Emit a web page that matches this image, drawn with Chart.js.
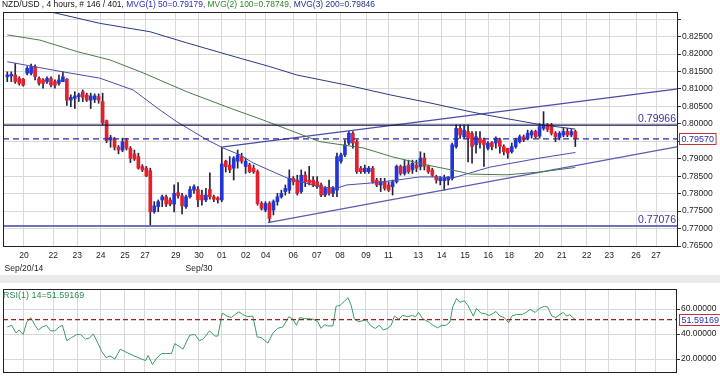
<!DOCTYPE html>
<html><head><meta charset="utf-8">
<script src="https://cdn.jsdelivr.net/npm/chart.js@4.4.1/dist/chart.umd.min.js"></script>
<style>
html,body{margin:0;padding:0;background:#fff;width:720px;height:378px;overflow:hidden;}
#main{position:absolute;left:0;top:0;}
#band{position:absolute;left:0;top:275px;width:720px;height:8px;background:#ebebeb;}
#rsi{position:absolute;left:0;top:283px;}
</style></head><body>
<canvas id="main" width="720" height="280"></canvas>
<div id="band"></div>
<canvas id="rsi" width="720" height="95"></canvas>
<script>
// ---------------- DATA ----------------
const opens  = [.8135,.8137,.8140,.8130,.8128,.8145,.8145,.8164,.8130,.8126,.8121,.8130,.8121,.8116,.8121,.8128,.8068,.8073,.8078,.8092,.8083,.8068,.8070,.8078,.8064,.8009,.7954,.7956,.7933,.7925,.7952,.7930,.7914,.7906,.7878,.7873,.7866,.7748,.7763,.7782,.7791,.7782,.7770,.7803,.7794,.7763,.7791,.7810,.7812,.7796,.7782,.7812,.7791,.7788,.7782,.7893,.7882,.7873,.7893,.7906,.7878,.7882,.7873,.7863,.7772,.7753,.7772,.7753,.7777,.7791,.7806,.7810,.7844,.7839,.7806,.7853,.7839,.7839,.7834,.7825,.7796,.7815,.7801,.7810,.7893,.7911,.7945,.7973,.7949,.7873,.7863,.7863,.7873,.7839,.7825,.7834,.7825,.7820,.7834,.7878,.7858,.7882,.7868,.7882,.7878,.7902,.7878,.7868,.7849,.7837,.7837,.7839,.7844,.7935,.7987,.7963,.7978,.7973,.7940,.7959,.7954,.7930,.7946,.7945,.7954,.7935,.7930,.7920,.7935,.7949,.7963,.7959,.7968,.7978,.7965,.7987,.7997,.7997,.7973,.7961,.7968,.7978,.7968,.7978];
const highs  = [.8149,.8149,.8173,.8135,.8130,.8164,.8171,.8169,.8135,.8130,.8135,.8135,.8126,.8140,.8149,.8130,.8083,.8092,.8088,.8097,.8088,.8088,.8086,.8086,.8088,.8011,.7967,.7961,.7938,.7959,.7959,.7935,.7925,.7916,.7883,.7878,.7873,.7777,.7782,.7796,.7796,.7788,.7825,.7832,.7801,.7796,.7820,.7825,.7820,.7810,.7815,.7860,.7796,.7791,.7934,.7896,.7906,.7906,.7925,.7916,.7902,.7887,.7882,.7868,.7777,.7777,.7777,.7782,.7801,.7810,.7825,.7868,.7849,.7853,.7868,.7863,.7878,.7849,.7849,.7830,.7820,.7839,.7820,.7916,.7916,.7954,.7978,.7978,.7954,.7878,.7882,.7878,.7878,.7844,.7844,.7844,.7834,.7839,.7882,.7882,.7896,.7896,.7896,.7896,.7920,.7916,.7882,.7873,.7853,.7849,.7853,.7849,.7945,.7997,.7997,.7997,.7997,.7978,.7978,.7978,.7959,.7949,.7949,.7963,.7959,.7940,.7930,.7945,.7959,.7968,.7968,.7982,.7982,.7982,.8001,.8035,.8001,.8001,.7978,.7978,.7987,.7987,.7984,.7982];
const lows   = [.8121,.8121,.8116,.8111,.8108,.8140,.8140,.8126,.8111,.8102,.8116,.8106,.8102,.8111,.8121,.8053,.8049,.8044,.8064,.8064,.8064,.8044,.8061,.8059,.7997,.7946,.7933,.7925,.7914,.7920,.7925,.7889,.7895,.7870,.7863,.7849,.7708,.7744,.7748,.7763,.7763,.7765,.7748,.7787,.7742,.7758,.7787,.7801,.7763,.7767,.7777,.7784,.7777,.7773,.7777,.7862,.7860,.7839,.7873,.7887,.7858,.7860,.7858,.7767,.7753,.7748,.7717,.7739,.7767,.7787,.7796,.7801,.7825,.7796,.7801,.7820,.7825,.7820,.7815,.7791,.7791,.7796,.7791,.7791,.7887,.7906,.7940,.7930,.7858,.7858,.7858,.7858,.7830,.7820,.7806,.7810,.7806,.7796,.7830,.7853,.7853,.7858,.7858,.7863,.7868,.7868,.7858,.7849,.7830,.7825,.7810,.7825,.7839,.7930,.7958,.7958,.7891,.7887,.7916,.7930,.7878,.7925,.7925,.7930,.7916,.7911,.7901,.7916,.7930,.7945,.7949,.7954,.7959,.7959,.7959,.7982,.7978,.7968,.7949,.7954,.7963,.7963,.7963,.7935];
const closes = [.8140,.8142,.8121,.8116,.8111,.8159,.8164,.8135,.8116,.8116,.8130,.8111,.8111,.8126,.8135,.8068,.8076,.8080,.8083,.8076,.8068,.8080,.8080,.8068,.8003,.7952,.7961,.7933,.7925,.7949,.7930,.7901,.7899,.7873,.7868,.7851,.7748,.7765,.7777,.7791,.7770,.7770,.7801,.7794,.7765,.7791,.7812,.7820,.7782,.7782,.7796,.7791,.7784,.7782,.7885,.7877,.7868,.7902,.7911,.7893,.7893,.7863,.7863,.7772,.7758,.7772,.7729,.7777,.7791,.7801,.7815,.7844,.7834,.7801,.7853,.7834,.7830,.7825,.7820,.7796,.7815,.7801,.7815,.7906,.7911,.7940,.7973,.7945,.7863,.7863,.7873,.7873,.7834,.7825,.7834,.7815,.7810,.7834,.7878,.7858,.7878,.7863,.7887,.7873,.7902,.7878,.7863,.7853,.7839,.7844,.7844,.7848,.7940,.7987,.7968,.7982,.7958,.7935,.7963,.7945,.7940,.7945,.7935,.7959,.7935,.7920,.7916,.7935,.7954,.7963,.7954,.7973,.7978,.7963,.7992,.7997,.7984,.7973,.7963,.7973,.7978,.7968,.7978,.7957];

// moving averages: [bar index, value]
const ma50  = [[0,.8178],[14,.8149],[23.3,.8131],[31.7,.8097],[38.4,.8040],[42.7,.8006],[50.3,.7954],[54.3,.7931],[58.6,.7911],[61.9,.7888],[70.4,.7845],[78.7,.7819],[83,.7816],[85.5,.7825],[92.1,.7831],[98.1,.7839],[103.9,.7848],[108.2,.7848],[112.2,.7845],[121.5,.7876],[134.1,.7902],[143,.7918]];
const ma100 = [[0,.8255],[8.2,.8240],[17.6,.8207],[25.9,.8183],[34.2,.8146],[45.2,.8092],[56.1,.8045],[64.4,.8011],[78.7,.7949],[89.6,.7931],[97.1,.7905],[105.7,.7882],[114,.7863],[116.5,.7856],[125.8,.7854],[134.1,.7862],[143,.7875]];
const ma200 = [[0,.8350],[10.8,.8321],[23.3,.8288],[35.9,.8264],[45.2,.8232],[58.6,.8188],[66.1,.8164],[72.9,.8140],[85.5,.8111],[96.4,.8083],[106.4,.8060],[116.5,.8035],[120.8,.8025],[134.6,.7997],[143,.7985]];
const upperTrend = [[54.3,.7934],[168.85,.8100]];
const lowerTrend = [[65.6,.7717],[168.85,.7935]];
const lastClose = 0.79570, resistance = 0.79966, support = 0.77076;

const rsi = [[0,45.8],[1.1,47.0],[2.2,40.9],[3.0,43.3],[4.0,39.6],[4.9,49.5],[5.9,53.2],[7.0,47.0],[7.8,43.3],[8.9,45.8],[9.9,47.0],[10.9,42.6],[12.0,42.6],[13.1,45.8],[13.9,47.0],[15.0,34.7],[16.2,37.2],[17.5,39.6],[18.5,39.6],[19.7,36.0],[20.7,36.7],[21.7,40.1],[22.9,32.3],[23.8,26.1],[24.9,21.2],[25.9,22.4],[27.1,20.0],[28.5,27.9],[29.9,25.6],[31.7,22.9],[33.4,20.5],[34.9,18.8],[35.5,22.9],[36.6,15.6],[37.6,20.5],[38.9,24.4],[40.1,24.4],[41.4,24.4],[42.2,32.3],[43.5,29.8],[44.3,27.9],[46.0,39.2],[47.3,39.6],[48.4,34.7],[49.4,36.0],[51.0,42.6],[52.3,38.4],[53.1,38.4],[54.2,56.8],[55.4,54.4],[56.5,53.2],[57.7,56.3],[58.4,57.8],[59.4,55.6],[60.7,53.9],[61.9,54.4],[63.0,37.7],[64.0,37.2],[65.7,32.8],[67.0,40.9],[68.2,44.6],[69.5,45.8],[71.0,53.9],[72.0,51.9],[72.9,47.0],[73.7,53.2],[75.0,52.4],[77.1,51.9],[78.3,49.9],[79.1,44.6],[80.0,47.5],[80.8,46.5],[82.1,46.5],[82.9,62.2],[83.9,63.0],[85.0,66.2],[85.9,69.1],[86.7,63.0],[87.5,51.9],[88.6,49.9],[90.5,51.4],[91.7,46.5],[92.8,44.5],[93.8,47.0],[94.8,43.3],[95.9,44.5],[96.8,47.0],[97.6,54.4],[98.7,51.9],[99.7,54.9],[101.0,53.9],[102.1,54.9],[102.9,53.9],[103.7,57.3],[104.7,52.4],[105.6,50.7],[106.4,49.5],[107.3,47.0],[108.5,45.0],[109.6,47.0],[110.6,47.0],[111.6,49.5],[112.3,61.7],[113.3,68.6],[114.1,65.4],[115.2,66.7],[116.1,63.0],[117.5,54.4],[118.3,60.5],[119.4,56.8],[120.5,56.3],[121.5,54.9],[122.4,56.3],[123.2,58.1],[124.2,54.4],[125.3,53.2],[126.4,49.0],[127.2,54.4],[128.4,55.6],[129.8,55.6],[130.8,57.3],[131.8,59.8],[133.1,57.3],[134.1,60.5],[135.4,62.2],[136.2,61.7],[137.3,54.4],[138.3,53.2],[139.6,56.3],[140.2,57.3],[141.0,54.4],[141.8,55.4],[143.2,51.6]];
const rsiLast = 51.59169;

// axis ticks
const xTickPos = [4.20,11.58,17.62,23.51,29.63,34.67,42.40,48.26,53.98,60.02,65.06,72.00,77.90,83.76,90.31,95.92,103.47,109.37,115.23,121.10,126.38,133.86,139.58,145.87,151.56,158.28,163.32];
const xLabels  = ['20','22','23','24','25','27','29','30','01','02','04','06','07','08','09','11','13','14','15','16','18','20','21','22','23','26','27'];
const xSubLabels = {0:'Sep/20/14', 7:'Sep/30'};
const priceTicks = [0.765,0.770,0.775,0.780,0.785,0.790,0.795,0.800,0.805,0.810,0.815,0.820,0.825,0.830];
const rsiTicks = [20,40,60];
const X_MIN = -1.08, X_MAX = 168.85;

const titleParts = [
  ['NZD/USD , 4 hours, # 146 / 401, ', '#111111'],
  ['MVG(1) 50=0.79179, ', '#2b2bc0'],
  ['MVG(2) 100=0.78749, ', '#2a862a'],
  ['MVG(3) 200=0.79846', '#1f2f8a']
];

// --------------- CHART ---------------
const FONT = '"Liberation Sans", Arial, sans-serif';
Chart.defaults.font.family = FONT;
Chart.defaults.animation = false;
Chart.defaults.events = [];
Chart.defaults.plugins.legend.display = false;
Chart.defaults.plugins.tooltip.enabled = false;

const GRID = '#d9d9d9';
const toPts = arr => arr.map(p => ({x: p[0], y: p[1]}));
const hline = v => [{x: X_MIN, y: v}, {x: X_MAX, y: v}];
const idx = closes.map((_, i) => i);

function drawBox(chart){
  const {ctx, chartArea:a} = chart;
  ctx.save();
  ctx.strokeStyle = '#222'; ctx.lineWidth = 1;
  ctx.strokeRect(Math.round(a.left)+0.5, Math.round(a.top)+0.5, Math.round(a.right-a.left)-1, Math.round(a.bottom-a.top));
  ctx.restore();
}
function valueBox(ctx, x, yc, text){
  ctx.save();
  ctx.font = '9px ' + FONT;
  const w = ctx.measureText(text).width + 4;
  ctx.fillStyle = '#fff';
  ctx.fillRect(x, yc-5.5, w, 11);
  ctx.strokeStyle = '#c03434'; ctx.lineWidth = 1;
  ctx.strokeRect(x+0.5, Math.round(yc-5.5)+0.5, w, 11);
  ctx.fillStyle = '#2a2ab0'; ctx.textBaseline = 'middle'; ctx.textAlign = 'left';
  ctx.fillText(text, x+2.5, yc+0.5);
  ctx.restore();
}

const mainDeco = {
  id: 'mainDeco',
  afterDatasetsDraw(chart){
    const {ctx, chartArea:a, scales:{y}} = chart;
    ctx.save();
    ctx.font = '10.5px ' + FONT;
    ctx.fillStyle = '#3636a0';
    ctx.textAlign = 'right'; ctx.textBaseline = 'bottom';
    ctx.fillText(resistance.toFixed(5), a.right - 2, y.getPixelForValue(resistance) - 0.5);
    ctx.fillText(support.toFixed(5), a.right - 2, y.getPixelForValue(support) - 1);
    ctx.restore();
  },
  afterDraw(chart){
    const {ctx, chartArea:a, scales:{y}} = chart;
    drawBox(chart);
    ctx.save();
    ctx.font = '9px ' + FONT;
    ctx.textBaseline = 'top';
    const total = titleParts.reduce((s, p) => s + ctx.measureText(p[0]).width, 0);
    const sx = Math.min(1, 373 / total);
    ctx.translate(2, 0.5);
    ctx.scale(sx, 1);
    let x = 0;
    titleParts.forEach(([t, c]) => { ctx.fillStyle = c; ctx.fillText(t, x, 0); x += ctx.measureText(t).width; });
    ctx.restore();
    valueBox(ctx, a.right + 1, y.getPixelForValue(lastClose), lastClose.toFixed(5));
  }
};

const lineDs = (data, color, width, dash) => ({
  type: 'line', data, borderColor: color, borderWidth: width, pointRadius: 0,
  tension: 0, fill: false, borderDash: dash || [], order: 0
});

new Chart(document.getElementById('main'), {
  type: 'bar',
  data: {
    datasets: [
      lineDs(hline(support), '#7272bc', 2),
      lineDs(hline(resistance), '#12124e', 1.2),
      lineDs(hline(lastClose), '#2a2aa0', 1.2, [6,4]),
      lineDs(toPts(ma200), '#2a3a80', 1),
      lineDs(toPts(ma100), '#4a7a4a', 1),
      lineDs(toPts(ma50), '#4c4cae', 1),
      lineDs(toPts(upperTrend), '#4a4aaa', 1.3),
      lineDs(toPts(lowerTrend), '#5a5ab4', 1.3),
      { type: 'bar', grouped: false, order: 2,
        data: idx.map(i => ({x: i, y: [lows[i], highs[i]]})),
        backgroundColor: '#23233f', barThickness: 1, borderWidth: 0 },
      { type: 'bar', grouped: false, order: 1, minBarLength: 1,
        data: idx.map(i => ({x: i, y: [opens[i], closes[i]]})),
        backgroundColor: idx.map(i => closes[i] >= opens[i] ? '#2236d8' : '#e4202c'),
        barThickness: 3, borderWidth: 0 }
    ]
  },
  options: {
    responsive: false, devicePixelRatio: 1,
    layout: { padding: { left: 3, top: 12, right: 0, bottom: 0 } },
    scales: {
      x: {
        type: 'linear', min: X_MIN, max: X_MAX, offset: false,
        grid: { color: GRID, drawTicks: false, offset: false },
        border: { display: false },
        afterBuildTicks: s => { s.ticks = xTickPos.map(v => ({value: v})); },
        afterFit: s => { s.height = 34; },
        ticks: {
          autoSkip: false, maxRotation: 0, padding: 3, color: '#222',
          font: { size: 8.5, lineHeight: 1.55 },
          callback: (v, i) => xSubLabels[i] ? [xLabels[i], xSubLabels[i]] : xLabels[i]
        }
      },
      y: {
        type: 'linear', position: 'right', min: 0.765, max: 0.83205,
        grid: { color: GRID, tickColor: '#333', tickLength: 3 },
        border: { display: false },
        afterBuildTicks: s => { s.ticks = priceTicks.map(v => ({value: v})); },
        afterFit: s => { s.width = 42; },
        ticks: { padding: 1, color: '#222', font: { size: 8.5 },
          callback: v => v > 0.8275 ? '' : v.toFixed(5) }
      }
    }
  },
  plugins: [mainDeco]
});

// ---------------- RSI panel ----------------
const rsiDeco = {
  id: 'rsiDeco',
  afterDraw(chart){
    const {ctx, chartArea:a, scales:{y}} = chart;
    drawBox(chart);
    ctx.save();
    ctx.font = '9px ' + FONT;
    ctx.fillStyle = '#2f8a55';
    ctx.textBaseline = 'top';
    ctx.fillText('RSI(1) 14=' + rsiLast.toFixed(5), 3, a.top + 2);
    ctx.restore();
    valueBox(ctx, a.right + 2, y.getPixelForValue(rsiLast), rsiLast.toFixed(5));
  }
};

new Chart(document.getElementById('rsi'), {
  type: 'line',
  data: {
    datasets: [
      lineDs(hline(rsiLast), '#9e1c1c', 1.2, [5,3]),
      lineDs(toPts(rsi), '#3a9a6a', 1)
    ]
  },
  options: {
    responsive: false, devicePixelRatio: 1,
    layout: { padding: { left: 3, top: 1, right: 0, bottom: 0 } },
    scales: {
      x: {
        type: 'linear', min: X_MIN, max: X_MAX,
        grid: { color: GRID, drawTicks: false },
        border: { display: false },
        afterBuildTicks: s => { s.ticks = xTickPos.map(v => ({value: v})); },
        afterFit: s => { s.height = 4; },
        ticks: { display: false }
      },
      y: {
        type: 'linear', position: 'right', min: 9.7, max: 76,
        grid: { color: GRID, tickColor: '#333', tickLength: 3 },
        border: { display: false },
        afterBuildTicks: s => { s.ticks = rsiTicks.map(v => ({value: v})); },
        afterFit: s => { s.width = 43; },
        ticks: { padding: 1, color: '#222', font: { size: 8.5 }, callback: v => v.toFixed(5) }
      }
    }
  },
  plugins: [rsiDeco]
});
</script></body></html>
